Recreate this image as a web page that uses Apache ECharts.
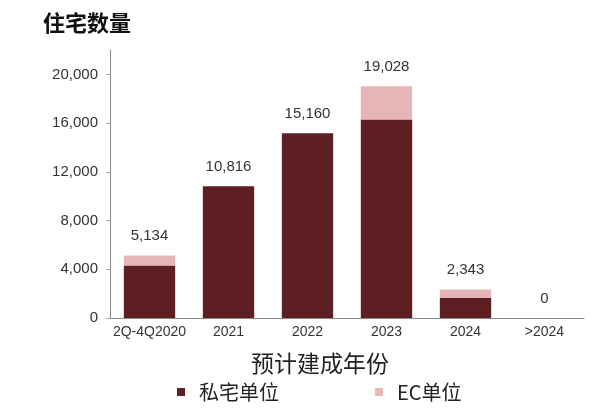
<!DOCTYPE html>
<html>
<head>
<meta charset="utf-8">
<script src="https://cdn.jsdelivr.net/npm/echarts@6/dist/echarts.min.js"></script>
<style>html,body{margin:0;padding:0;background:#fff}#c{width:603px;height:413px}</style>
</head>
<body>
<div id="c"></div>
<script>
const categories = ['2Q-4Q2020', '2021', '2022', '2023', '2024', '>2024'];
const privateUnits = [4300, 10816, 15160, 16300, 1670, 0];
const ecUnits = [834, 0, 0, 2728, 673, 0];
const totals = [5134, 10816, 15160, 19028, 2343, 0];
const yTicks = [0, 4000, 8000, 12000, 16000, 20000];

const chart = echarts.init(document.getElementById('c'));
const font = '"Noto Sans CJK SC", "Liberation Sans", sans-serif';
const latin = '"Liberation Sans", sans-serif';
chart.setOption({
  animation: false,
  textStyle: { fontFamily: font },
  title: {
    text: '住宅数量', left: 38, top: 7,
    textStyle: { fontSize: 22, fontWeight: 'bold', color: '#111', fontFamily: font }
  },
  legend: {
    left: 172, top: 377, itemWidth: 8, itemHeight: 8, itemGap: 96, icon: 'rect',
    textStyle: { fontSize: 20, color: '#222', fontFamily: font, padding: [0, 0, 0, 9] },
    data: ['私宅单位', 'EC单位']
  },
  grid: { left: 110, right: 19, top: 50, bottom: 95 },
  xAxis: {
    type: 'category', data: categories,
    name: '预计建成年份', nameLocation: 'middle', nameGap: 34,
    nameTextStyle: { fontSize: 23, color: '#222', fontFamily: font, padding: [0, 54, 0, 0] },
    axisLine: { lineStyle: { color: '#888' } },
    axisTick: { show: false },
    axisLabel: { fontSize: 14, color: '#333', margin: 7, interval: 0, fontFamily: latin }
  },
  yAxis: {
    type: 'value', min: 0, max: 22000, interval: 4000,
    axisLine: { show: true, lineStyle: { color: '#888' } },
    axisTick: { show: true, length: 4, lineStyle: { color: '#aaa' }, customValues: yTicks },
    splitLine: { show: false },
    axisLabel: {
      fontSize: 15, color: '#333', margin: 12, customValues: yTicks, fontFamily: latin,
      formatter: v => v.toLocaleString('en-US')
    }
  },
  series: [
    {
      name: '私宅单位', type: 'bar', stack: 'a', barWidth: '65%',
      itemStyle: { color: '#5e1f22' }, data: privateUnits
    },
    {
      name: 'EC单位', type: 'bar', stack: 'a', barWidth: '65%',
      itemStyle: { color: '#e5b5b8' }, data: ecUnits,
      label: {
        show: true, position: 'top', distance: 12, fontSize: 15, color: '#333', fontFamily: latin,
        formatter: p => totals[p.dataIndex].toLocaleString('en-US')
      }
    }
  ]
});
</script>
</body>
</html>
